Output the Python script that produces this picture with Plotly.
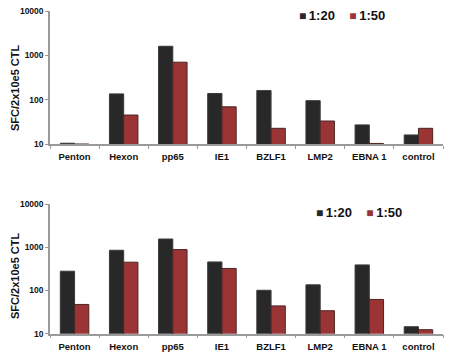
import plotly.graph_objects as go

categories = ["Penton", "Hexon", "pp65", "IE1", "BZLF1", "LMP2", "EBNA 1", "control"]
top_1_20 = [10.4, 135, 1600, 138, 160, 95, 27, 16]
top_1_50 = [10, 45, 700, 69, 22.6, 33, 10.3, 22.6]
bot_1_20 = [279, 850, 1550, 457, 101, 135, 390, 14.5]
bot_1_50 = [47.5, 451, 883, 323, 44, 34, 62, 12.4]
series_names = ["1:20", "1:50"]
ytick_vals = [10, 100, 1000, 10000]
ytick_text = ["10", "100", "1000", "10000"]
y_title = "SFC/2x10e5 CTL"

BLACK = "#282828"
RED = "#9b3535"
EDGE_B = "#3a3a3a"
EDGE_R = "#4a2424"
AXIS = "#9a9a9a"
FONT = "Liberation Sans"

fig = go.Figure()

panels = [("x", "y", top_1_20, top_1_50),
          ("x2", "y2", bot_1_20, bot_1_50)]
for xa, ya, s1, s2 in panels:
    for name, vals, col, edge in [(series_names[0], s1, BLACK, EDGE_B),
                                  (series_names[1], s2, RED, EDGE_R)]:
        fig.add_trace(go.Bar(x=categories, y=vals, name=name, xaxis=xa, yaxis=ya,
                             marker=dict(color=col, line=dict(color=edge, width=1)),
                             showlegend=False))

xdom = [50 / 450, 443 / 450]
common_x = dict(type="category", showline=True, linecolor=AXIS, linewidth=1.5,
                ticks="outside", ticklen=3, tickcolor=AXIS, tickson="boundaries",
                ticklabelstandoff=3,
                tickfont=dict(family=FONT, size=9.5, color="#111", weight="bold"),
                showgrid=False, domain=xdom, automargin=False)
common_y = dict(type="log", range=[1, 4], tickvals=ytick_vals, ticktext=ytick_text,
                showline=True, linecolor=AXIS, linewidth=1.5, ticks="outside",
                ticklen=3, tickcolor=AXIS, showgrid=False, zeroline=False,
                automargin=False,
                tickfont=dict(family=FONT, size=8.5, color="#111", weight="bold"))


def legend_text():
    parts = []
    for name, col in zip(series_names, [BLACK, RED]):
        parts.append(f"<span style='color:{col};font-size:12px'>■</span>\u2009{name}")
    return "\u00a0\u00a0\u00a0\u00a0".join(parts)


legend_font = dict(family=FONT, size=13, color="#111", weight="bold")
title_font = dict(family=FONT, size=11, color="#111", weight="bold")
annotations = [
    dict(text=legend_text(), xref="paper", yref="paper", x=298 / 450, y=1 - 15 / 358,
         xanchor="left", yanchor="middle", showarrow=False, borderpad=0, font=legend_font),
    dict(text=legend_text(), xref="paper", yref="paper", x=315 / 450, y=1 - 212 / 358,
         xanchor="left", yanchor="middle", showarrow=False, borderpad=0, font=legend_font),
    dict(text=y_title, xref="paper", yref="paper", x=15 / 450, y=1 - 88 / 358,
         xanchor="center", yanchor="middle", textangle=-90, showarrow=False,
         borderpad=0, font=title_font),
    dict(text=y_title, xref="paper", yref="paper", x=15 / 450, y=1 - 276 / 358,
         xanchor="center", yanchor="middle", textangle=-90, showarrow=False,
         borderpad=0, font=title_font),
]

fig.update_layout(
    width=450, height=358,
    margin=dict(l=0, r=0, t=0, b=0, autoexpand=False),
    paper_bgcolor="white", plot_bgcolor="white",
    barmode="group", bargap=0.42, bargroupgap=0,
    showlegend=False,
    xaxis=dict(**common_x, anchor="y"),
    yaxis=dict(**common_y, domain=[1 - 144 / 358, 1 - 11 / 358], anchor="x"),
    xaxis2=dict(**common_x, anchor="y2"),
    yaxis2=dict(**common_y, domain=[1 - 333.7 / 358, 1 - 204 / 358], anchor="x2"),
    annotations=annotations,
)

fig.write_html("out.html", config={"displayModeBar": False},
               post_script="document.body.style.margin='0';document.body.style.overflow='hidden';")
